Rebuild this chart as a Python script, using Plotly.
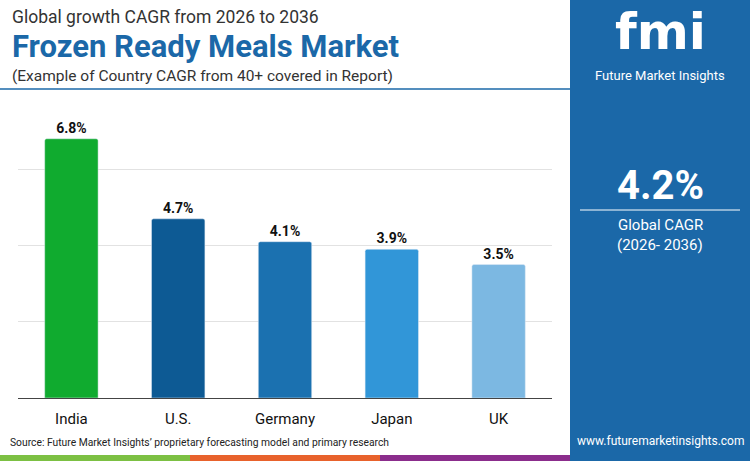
import plotly.graph_objects as go

countries = ["India", "U.S.", "Germany", "Japan", "UK"]
cagr = [6.8, 4.7, 4.1, 3.9, 3.5]
bar_colors = ["#10ab2f", "#0d5a94", "#1b71b0", "#3196d8", "#7cb8e2"]
labels = [f"<b>{v}%</b>" for v in cagr]

W, H = 750, 461

fig = go.Figure(go.Bar(
    x=countries, y=cagr, marker_color=bar_colors, marker_cornerradius=2, width=0.5,
    text=labels, textposition="outside", cliponaxis=False,
    textfont=dict(family="Roboto", size=14, color="#111"),
))

fig.update_layout(
    width=W, height=H, margin=dict(l=0, r=0, t=0, b=0),
    plot_bgcolor="white", paper_bgcolor="white", showlegend=False,
    xaxis=dict(domain=[18 / W, 552 / W], showgrid=False, showline=False,
               tickfont=dict(family="Roboto", size=15, color="#111"), ticks="",
               ticklabelstandoff=10),
    yaxis=dict(domain=[63 / H, 368 / H], range=[0, 8], dtick=2, showticklabels=False,
               gridcolor="#e2e2e2", zeroline=True, zerolinecolor="#444444", zerolinewidth=1),
)

# right panel and bottom strip
fig.add_shape(type="rect", xref="paper", yref="paper", x0=570 / W, x1=1, y0=0, y1=1,
              fillcolor="#1b68a8", line_width=0, layer="below")
for x0, x1, c in [(0, 190, "#7cc043"), (190, 380, "#e8622c"), (380, 570, "#8b2d8c")]:
    fig.add_shape(type="rect", xref="paper", yref="paper", x0=x0 / W, x1=x1 / W,
                  y0=0, y1=6 / H, fillcolor=c, line_width=0)
fig.add_shape(type="line", xref="paper", yref="paper", x0=0, x1=570 / W,
              y0=1 - 89 / H, y1=1 - 89 / H, line=dict(color="#1b68a8", width=1.5))
fig.add_shape(type="line", xref="paper", yref="paper", x0=580 / W, x1=740 / W,
              y0=1 - 210 / H, y1=1 - 210 / H, line=dict(color="white", width=1))


def txt(x, y, s, size, color="#222", bold=False, anchor="left", family="Roboto"):
    fig.add_annotation(x=x / W, y=1 - y / H, xref="paper", yref="paper", text=f"<b>{s}</b>" if bold else s,
                       showarrow=False, xanchor=anchor, yanchor="middle",
                       font=dict(family=family, size=size, color=color))


txt(10, 17, "Global growth CAGR from 2026 to 2036", 17.5, "#333")
txt(10, 47, "Frozen Ready Meals Market", 31, "#1b68a8", bold=True)
txt(10, 76, "(Example of Country CAGR from 40+ covered in Report)", 15.5, "#333")
txt(8, 442, "Source: Future Market Insights’ proprietary forecasting model and primary research", 10.3, "#222")

txt(660, 32, "fmi", 50, "white", bold=True, anchor="center", family="DejaVu Sans")
txt(660, 76, "Future Market Insights", 13, "white", anchor="center")
txt(660, 185, "4.2%", 40, "white", bold=True, anchor="center")
txt(660, 225, "Global CAGR", 15, "white", anchor="center")
txt(660, 245, "(2026- 2036)", 15, "white", anchor="center")
txt(660, 441, "www.futuremarketinsights.com", 12, "white", anchor="center")

fig.write_html("out.html", config={"displayModeBar": False},
               post_script="document.body.style.margin='0';")
